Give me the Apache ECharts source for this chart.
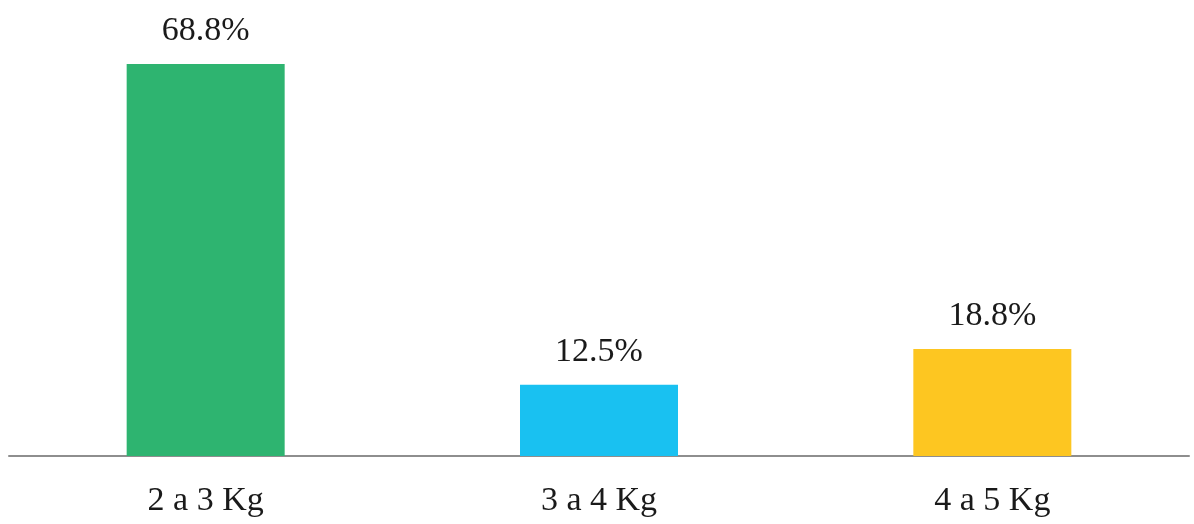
<!DOCTYPE html>
<html>
<head>
<meta charset="utf-8">
<script src="https://cdn.jsdelivr.net/npm/echarts@6/dist/echarts.min.js"></script>
<style>
  html, body { margin: 0; padding: 0; background: #ffffff; }
  #chart { width: 1194px; height: 524px; }
</style>
</head>
<body>
<div id="chart"></div>
<script>
// Weight ranges and their share of cases (%)
const categories = ['2 a 3 Kg', '3 a 4 Kg', '4 a 5 Kg'];
const shares = [68.8, 12.5, 18.8];
const barColors = ['#2eb470', '#19c1f1', '#fdc621'];

const chart = echarts.init(document.getElementById('chart'));
const textFont = '"Liberation Serif", "Times New Roman", serif';

chart.setOption({
  animation: false,
  grid: { left: 9, right: 5, top: 64, bottom: 68, containLabel: false },
  xAxis: {
    type: 'category',
    data: categories,
    axisLine: { show: true, lineStyle: { color: '#8e8e8e', width: 2 } },
    axisTick: { show: false },
    axisLabel: { color: '#1a1a1a', fontFamily: textFont, fontSize: 34, margin: 28 }
  },
  yAxis: {
    type: 'value',
    min: 0,
    max: 68.8,
    show: false,
    splitLine: { show: false }
  },
  series: [{
    type: 'bar',
    barWidth: 158,
    data: shares.map((v, i) => ({ value: v, itemStyle: { color: barColors[i] } })),
    label: {
      show: true,
      position: 'top',
      distance: 16,
      color: '#1a1a1a',
      fontFamily: textFont,
      fontSize: 34,
      formatter: p => p.value.toFixed(1) + '%'
    }
  }]
});
</script>
</body>
</html>
